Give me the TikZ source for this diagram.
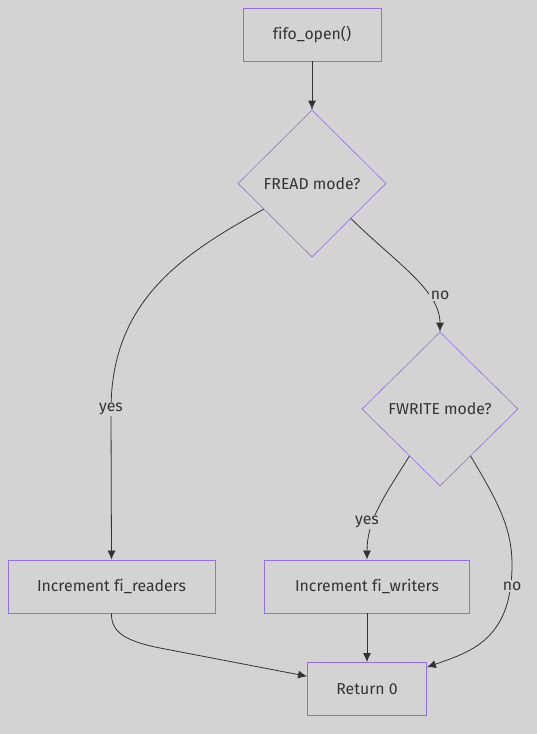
\documentclass[tikz,border=0pt]{standalone}
\usepackage{fontspec}
\setmainfont[Ligatures={NoCommon}]{Fira Sans}
\usetikzlibrary{shapes.geometric,arrows.meta}
\definecolor{bgc}{HTML}{D3D3D3}
\definecolor{txt}{HTML}{333333}
\definecolor{brd}{HTML}{9370DB}
\tikzset{
  box/.style={draw=brd,fill=bgc,line width=0.9pt,text=txt,rectangle,inner sep=0pt,font=\fontsize{15.8}{18}\selectfont},
  dia/.style={draw=brd,fill=bgc,line width=0.6pt,text=txt,diamond,inner sep=0pt,font=\fontsize{15.8}{18}\selectfont},
  edge/.style={draw=txt,line width=0.8pt,-{Latex[length=9pt,width=8pt]}},
  lbl/.style={fill=bgc,text=txt,inner sep=1.5pt,font=\fontsize{15.8}{18}\selectfont}
}
\begin{document}
\begin{tikzpicture}[x=1pt,y=-1pt]
\fill[bgc] (0,0) rectangle (537,734);
\useasboundingbox (0,0) rectangle (537,734);
\node[box,minimum width=138pt,minimum height=53pt] (open) at (312,34.5) {fifo\_open()};
\node[dia,minimum width=148pt,minimum height=147pt] (fread) at (312,183.5) {FREAD mode?};
\node[dia,minimum width=156pt,minimum height=154pt] (fwrite) at (440,409) {FWRITE mode?};
\node[box,minimum width=207pt,minimum height=53pt] (readers) at (111.5,586.5) {Increment fi\_readers};
\node[box,minimum width=205pt,minimum height=53pt] (writers) at (367,586.5) {Increment fi\_writers};
\node[box,minimum width=119pt,minimum height=53pt] (ret) at (367,689) {Return 0};
\coordinate (ybend) at (111,410);
\coordinate (nbend) at (512,565);
\coordinate (rbend) at (160,648);
\draw[edge] (open) -- (fread);
\draw[edge] (fread.208) .. controls (183,254) and (111,300) .. (ybend) -- (readers.north);
\draw[edge] (fread.-42) .. controls (395,262) and (440,290) .. (fwrite.north);
\draw[edge] (fwrite.237) .. controls (385,495) and (367,520) .. (writers.north);
\draw[edge] (fwrite.-57) .. controls (500,505) and (512,530) .. (nbend) .. controls (512,640) and (470,652) .. (ret.20);
\draw[edge] (readers.south) .. controls (111,632) and (125,641) .. (rbend) -- (ret.168);
\draw[edge] (writers) -- (ret);
\node[lbl] (l1) at (111,409) {yes};
\node[lbl] (l2) at (440,295) {no};
\node[lbl] (l3) at (367,522) {yes};
\node[lbl] (l4) at (512,586) {no};
\end{tikzpicture}
\end{document}
